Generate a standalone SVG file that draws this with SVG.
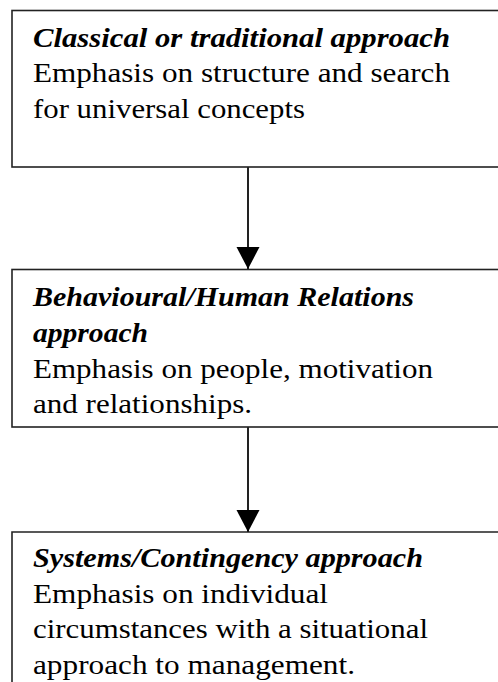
<svg xmlns="http://www.w3.org/2000/svg" width="498" height="682" viewBox="0 0 498 682">
<style>
.box{fill:#fff;stroke:#222;stroke-width:1.6}
.t{font-family:"Liberation Serif","Times New Roman",serif;font-size:27px;fill:#000}
.h{font-weight:bold;font-style:italic}
.c{stroke:#222;stroke-width:2;fill:none}
</style>
<defs>
<marker id="ah" markerUnits="userSpaceOnUse" markerWidth="22" markerHeight="24" refX="22" refY="12" orient="auto" viewBox="0 0 22 24">
<path d="M0,0.5 L22,12 L0,23.5 Z" fill="#000"/>
</marker>
</defs>
<rect width="498" height="682" fill="#fff"/>
<g id="node1">
<rect class="box" x="12" y="10.5" width="500" height="156.5"/>
<text class="t h" x="33" y="47" textLength="417" lengthAdjust="spacingAndGlyphs">Classical or traditional approach</text>
<text class="t" x="33" y="82" textLength="417" lengthAdjust="spacingAndGlyphs">Emphasis on structure and search</text>
<text class="t" x="33" y="118" textLength="272" lengthAdjust="spacingAndGlyphs">for universal concepts</text>
</g>
<g id="node2">
<rect class="box" x="12" y="269.5" width="500" height="157.5"/>
<text class="t h" x="33" y="306" textLength="381" lengthAdjust="spacingAndGlyphs">Behavioural/Human Relations</text>
<text class="t h" x="33" y="342" textLength="115" lengthAdjust="spacingAndGlyphs">approach</text>
<text class="t" x="33" y="378" textLength="400" lengthAdjust="spacingAndGlyphs">Emphasis on people, motivation</text>
<text class="t" x="33" y="413" textLength="219" lengthAdjust="spacingAndGlyphs">and relationships.</text>
</g>
<g id="node3">
<path class="box" d="M12,700 L12,532 L512,532 L512,700"/>
<text class="t h" x="33" y="567" textLength="390" lengthAdjust="spacingAndGlyphs">Systems/Contingency approach</text>
<text class="t" x="33" y="603" textLength="295" lengthAdjust="spacingAndGlyphs">Emphasis on individual</text>
<text class="t" x="33" y="638" textLength="395" lengthAdjust="spacingAndGlyphs">circumstances with a situational</text>
<text class="t" x="33" y="674" textLength="322" lengthAdjust="spacingAndGlyphs">approach to management.</text>
</g>
<g id="connectors">
<line class="c" x1="248" y1="167" x2="248" y2="269" marker-end="url(#ah)"/>
<line class="c" x1="248" y1="427" x2="248" y2="532" marker-end="url(#ah)"/>
</g>
</svg>
